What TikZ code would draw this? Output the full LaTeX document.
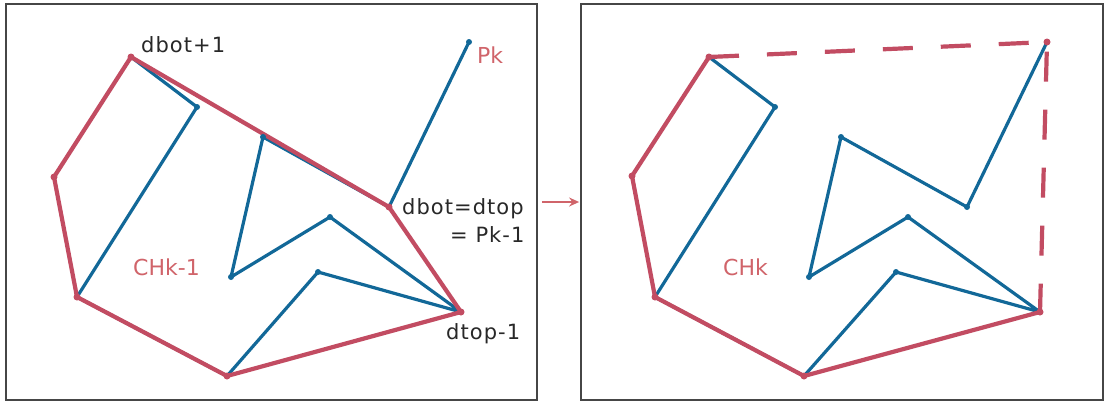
\documentclass[tikz,border=0pt]{standalone}
\usepackage{fontspec}
\setmainfont{DejaVu Sans}
\newfontfamily\labfont[LetterSpace=5]{DejaVu Sans}
\usetikzlibrary{arrows.meta}
\definecolor{hullred}{RGB}{194,76,98}
\definecolor{chainblue}{RGB}{18,104,152}
\definecolor{labred}{RGB}{208,100,106}
\definecolor{framegray}{RGB}{70,70,70}
\definecolor{txtgray}{RGB}{40,40,40}
\begin{document}
\begin{tikzpicture}[x=1pt,y=-1pt,
  panel/.style={draw=framegray,line width=1.8pt,inner sep=0pt},
  chain/.style={draw=chainblue,line width=3.2pt,line join=round,line cap=round},
  hull/.style={draw=hullred,line width=4.2pt,line join=round,line cap=round},
  hulldash/.style={draw=hullred,line width=4.2pt,line join=round,dash pattern=on 30pt off 28pt},
  lab/.style={anchor=base west,inner sep=0pt,text=txtgray,font=\labfont\fontsize{21}{24}\selectfont},
  redlab/.style={anchor=base west,inner sep=0pt,text=labred,font=\fontsize{22}{24}\selectfont},
  bdot/.style={circle,fill=chainblue,inner sep=0pt,minimum size=6pt},
  rdot/.style={circle,fill=hullred,inner sep=0pt,minimum size=7pt},
  goes/.style={draw=labred,line width=2pt,-{Stealth[length=10pt,width=9pt]},shorten <=4pt,shorten >=1pt}
]
\useasboundingbox (0,0) rectangle (1105,402);

% panels
\node[panel,minimum width=531pt,minimum height=396pt] (lpanel) at (271.5,202) {};
\node[panel,minimum width=522pt,minimum height=396pt] (rpanel) at (842,202) {};
\draw[goes] (lpanel) -- (rpanel);

% left panel vertices
\coordinate (a) at (131,57);
\coordinate (b) at (54,177);
\coordinate (c) at (77,297);
\coordinate (d) at (227,376);
\coordinate (e) at (461,312);
\coordinate (f) at (389,207);
\coordinate (pk) at (469,42);
\coordinate (g) at (197,107);
\coordinate (h) at (263,137);
\coordinate (i) at (231,277);
\coordinate (j) at (330,217);
\coordinate (k) at (318,272);

% right panel vertices
\coordinate (ra) at (709,57);
\coordinate (rb) at (632,176);
\coordinate (rc) at (655,297);
\coordinate (rd) at (804,376);
\coordinate (re) at (1040,312);
\coordinate (rf) at (967,207);
\coordinate (rpk) at (1047,42);
\coordinate (rg) at (775,107);
\coordinate (rh) at (841,137);
\coordinate (ri) at (809,277);
\coordinate (rj) at (908,217);
\coordinate (rk) at (896,272);

% left: chain then hull
\draw[chain] (a) -- (g) -- (c) -- (d) -- (k) -- (e) -- (j) -- (i) -- (h) -- (f) -- (pk);
\draw[hull] (a) -- (b) -- (c) -- (d) -- (e) -- (f) -- cycle;
\foreach \p in {g,h,i,j,k,pk} \node[bdot] at (\p) {};
\foreach \p in {a,b,c,d,e,f} \node[rdot] at (\p) {};

% right: chain then hull
\draw[chain] (ra) -- (rg) -- (rc) -- (rd) -- (rk) -- (re) -- (rj) -- (ri) -- (rh) -- (rf) -- (rpk);
\draw[hull] (ra) -- (rb) -- (rc) -- (rd) -- (re);
\draw[hulldash] (ra) -- (rpk) -- (re);
\foreach \p in {rg,rh,ri,rj,rk,rf} \node[bdot] at (\p) {};
\foreach \p in {ra,rb,rc,rd,re,rpk} \node[rdot] at (\p) {};

% labels
\node[lab] (l1) at (141,52) {dbot+1};
\node[lab] (l2) at (402,214) {dbot=dtop};
\node[lab] (l3) at (450,242) {= Pk-1};
\node[lab] (l4) at (446,339) {dtop-1};
\node[redlab] (l5) at (477,63) {Pk};
\node[redlab] (l6) at (133,275) {CHk-1};
\node[redlab] (l7) at (723,275) {CHk};
\end{tikzpicture}
\end{document}
